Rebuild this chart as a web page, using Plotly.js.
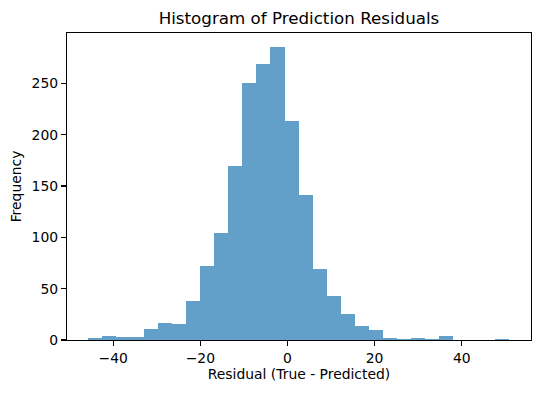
<!DOCTYPE html>
<html>
<head>
<meta charset="utf-8">
<script src="https://cdn.plot.ly/plotly-3.0.1.min.js"></script>
<style>html,body{margin:0;padding:0;background:#fff;}#chart{width:540px;height:393px;}</style>
</head>
<body>
<div id="chart"></div>
<script>
// Histogram bins (30 equal-width bins)
const binStart = -45.85;
const binWidth = 3.227;
const counts = [2, 4, 3, 3, 11, 17, 16, 38, 72, 104, 169, 250, 269, 285, 213, 141, 69, 43, 25, 14, 10, 2, 1, 2, 1, 4, 0, 0, 0, 1];
const xTicks = [-40, -20, 0, 20, 40];
const yTicks = [0, 50, 100, 150, 200, 250];

const centers = counts.map((_, i) => binStart + binWidth * (i + 0.5));

const font = 'DejaVu Sans, sans-serif';
const trace = {
  type: 'bar',
  x: centers,
  y: counts,
  width: counts.map(() => binWidth),
  marker: {color: 'rgba(31,119,180,0.7)', line: {width: 0}},
  hoverinfo: 'x+y'
};

const axisCommon = {
  showline: true, mirror: true, linecolor: '#000', linewidth: 1.1,
  ticks: 'outside', ticklen: 5, tickwidth: 1.1, tickcolor: '#000',
  showgrid: false, zeroline: false,
  tickfont: {family: font, size: 13.9, color: '#000'}
};

const layout = {
  width: 540, height: 393,
  margin: {l: 67, r: 9, t: 33, b: 53},
  paper_bgcolor: '#fff', plot_bgcolor: '#fff',
  bargap: 0,
  showlegend: false,
  title: {text: 'Histogram of Prediction Residuals', font: {family: font, size: 16.7, color: '#000'},
          x: 0.5, xref: 'paper', y: 0.955, yref: 'container', yanchor: 'middle'},
  xaxis: Object.assign({}, axisCommon, {
    range: [-50.6, 55.9], tickmode: 'array', tickvals: xTicks,
    ticktext: xTicks.map(v => v < 0 ? '\u2212' + Math.abs(v) : String(v)),
    title: {text: 'Residual (True - Predicted)', font: {family: font, size: 13.9, color: '#000'}, standoff: 4}
  }),
  yaxis: Object.assign({}, axisCommon, {
    range: [0, 299], tickmode: 'array', tickvals: yTicks,
    title: {text: 'Frequency', font: {family: font, size: 13.9, color: '#000'}, standoff: 6}
  })
};

Plotly.newPlot('chart', [trace], layout, {displayModeBar: false, staticPlot: true});
</script>
</body>
</html>
